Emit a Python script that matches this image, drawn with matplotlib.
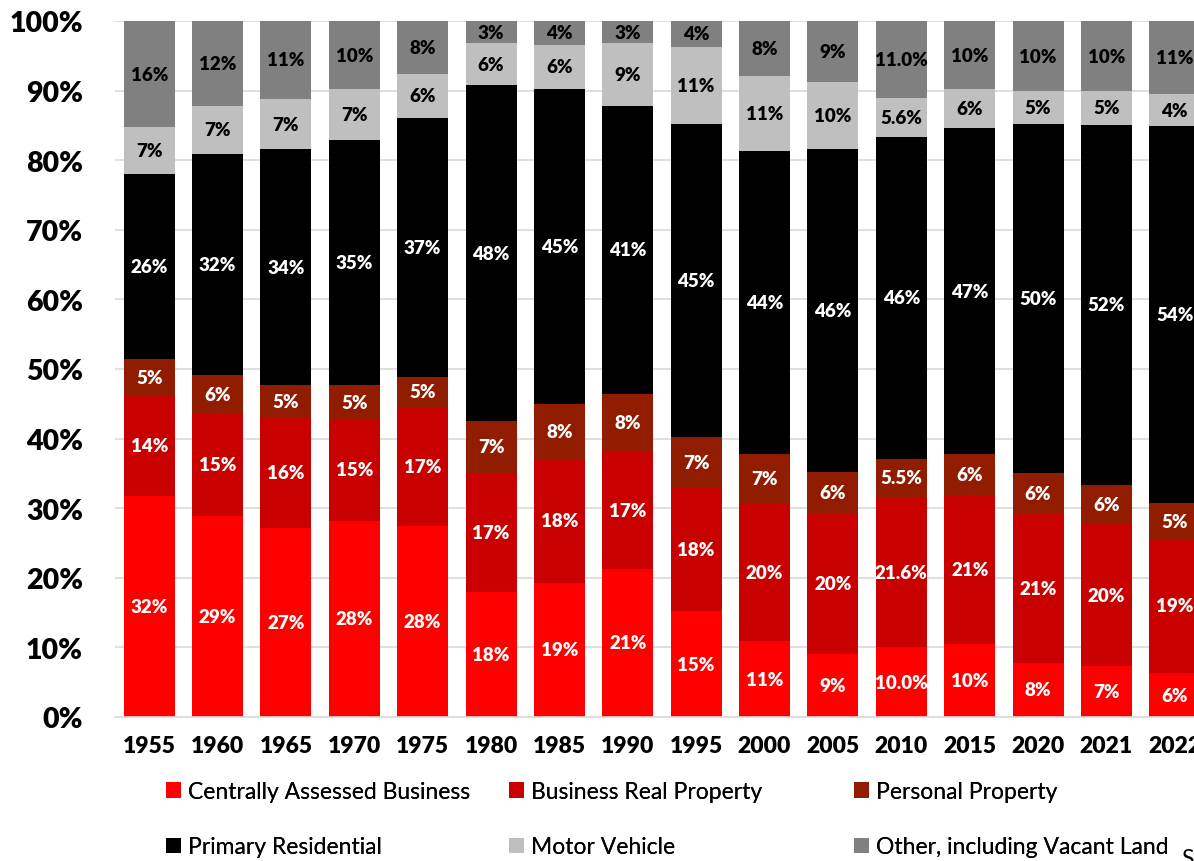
import matplotlib.pyplot as plt
import numpy as np

years = ["1955", "1960", "1965", "1970", "1975", "1980", "1985", "1990",
         "1995", "2000", "2005", "2010", "2015", "2020", "2021", "2022"]

# segment shares (%), bottom to top
central = [31.8, 28.9, 27.2, 28.2, 27.4, 18.0, 19.3, 21.3, 15.2, 10.9, 9.1, 10.0, 10.5, 7.8, 7.3, 6.3]
bus_real = [14.4, 14.8, 15.8, 14.6, 17.1, 17.1, 17.8, 16.8, 17.7, 19.7, 20.2, 21.6, 21.3, 21.4, 20.4, 19.3]
personal = [5.3, 5.4, 4.7, 4.9, 4.4, 7.4, 7.9, 8.3, 7.3, 7.2, 5.9, 5.5, 6.0, 5.9, 5.6, 5.1]
residential = [26.5, 31.8, 33.9, 35.2, 37.2, 48.3, 45.2, 41.4, 45.0, 43.5, 46.4, 46.3, 46.8, 50.1, 51.8, 54.2]
motor = [6.7, 6.9, 7.2, 7.3, 6.3, 6.0, 6.4, 9.0, 11.1, 10.8, 9.6, 5.6, 5.6, 4.7, 4.8, 4.6]
other = [15.3, 12.2, 11.2, 9.8, 7.6, 3.2, 3.4, 3.2, 3.7, 7.9, 8.8, 11.0, 9.8, 10.1, 10.1, 10.5]

# printed labels
lab_central = ["32%", "29%", "27%", "28%", "28%", "18%", "19%", "21%", "15%", "11%", "9%", "10.0%", "10%", "8%", "7%", "6%"]
lab_bus_real = ["14%", "15%", "16%", "15%", "17%", "17%", "18%", "17%", "18%", "20%", "20%", "21.6%", "21%", "21%", "20%", "19%"]
lab_personal = ["5%", "6%", "5%", "5%", "5%", "7%", "8%", "8%", "7%", "7%", "6%", "5.5%", "6%", "6%", "6%", "5%"]
lab_residential = ["26%", "32%", "34%", "35%", "37%", "48%", "45%", "41%", "45%", "44%", "46%", "46%", "47%", "50%", "52%", "54%"]
lab_motor = ["7%", "7%", "7%", "7%", "6%", "6%", "6%", "9%", "11%", "11%", "10%", "5.6%", "6%", "5%", "5%", "4%"]
lab_other = ["16%", "12%", "11%", "10%", "8%", "3%", "4%", "3%", "4%", "8%", "9%", "11.0%", "10%", "10%", "10%", "11%"]

series = [
    ("Centrally Assessed Business", central, lab_central, "#FF0000", "white"),
    ("Business Real Property", bus_real, lab_bus_real, "#C80000", "white"),
    ("Personal Property", personal, lab_personal, "#921C00", "white"),
    ("Primary Residential", residential, lab_residential, "#000000", "white"),
    ("Motor Vehicle", motor, lab_motor, "#BFBFBF", "black"),
    ("Other, including Vacant Land", other, lab_other, "#808080", "black"),
]

plt.rcParams['font.family'] = ['Lato', 'DejaVu Sans']

W, H = 1194, 862
fig = plt.figure(figsize=(W / 100, H / 100), dpi=100)
# axes runs past the right edge, like the cropped original
ax = fig.add_axes([115 / W, 144 / H, 1094 / W, 696 / H])

x = np.arange(len(years))
bottom = np.zeros(len(years))
handles = {}
for name, vals, labs, col, tcol in series:
    vals = np.array(vals)
    b = ax.bar(x, vals, 0.745, bottom=bottom, color=col, label=name, zorder=2)
    handles[name] = b
    for xi, v, bt, t in zip(x, vals, bottom, labs):
        ax.text(xi, bt + v / 2, t, ha="center", va="center", color=tcol,
                fontsize=13.5, fontweight="heavy", zorder=3)
    bottom += vals

ax.set_xlim(-0.5, len(years) - 0.5)
ax.set_ylim(0, 100)
ax.set_yticks(np.arange(0, 101, 10))
ax.set_yticklabels([f"{v}%" for v in range(0, 101, 10)], fontsize=20.5, fontweight="heavy")
ax.set_xticks(x)
ax.set_xticklabels(years, fontsize=16.5, fontweight="heavy")
ax.tick_params(axis="y", length=0, pad=23)
ax.tick_params(axis="x", length=0, pad=13)
ax.grid(axis="y", color="#D9D9D9", linewidth=1.2, zorder=0)
ax.set_axisbelow(True)
for s in ["top", "right", "left"]:
    ax.spines[s].set_visible(False)
ax.spines["bottom"].set_color("#D9D9D9")
ax.spines["bottom"].set_linewidth(1.2)

# legend: three columns of two entries
cols = [
    (["Centrally Assessed Business", "Primary Residential"], 166),
    (["Business Real Property", "Motor Vehicle"], 509),
    (["Personal Property", "Other, including Vacant Land"], 854),
]
for names, px in cols:
    leg = fig.legend([handles[n] for n in names], names, loc="upper left",
                     bbox_to_anchor=(px / W, 1 - 782 / H), frameon=False,
                     fontsize=16.5, handlelength=0.65, handleheight=0.65,
                     handletextpad=0.3, labelspacing=1.5, borderpad=0,
                     borderaxespad=0)
    fig.add_artist(leg)

fig.text(1181 / W, 1 - 860 / H, "Source", fontsize=16.5, va="center", ha="left")

fig.savefig("out.png", dpi=100)
